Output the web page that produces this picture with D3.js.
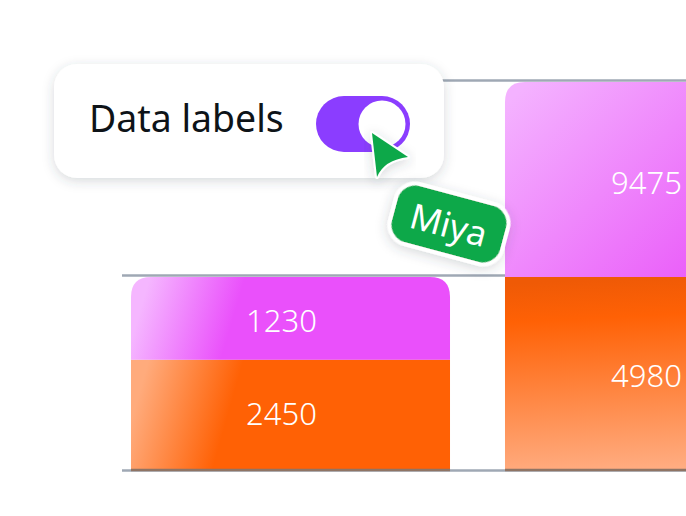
<!DOCTYPE html>
<html>
<head>
    <meta charset="utf-8">
    <title>Data labels</title>
    <script src="https://d3js.org/d3.v7.min.js"></script>
    <style>
        body { margin: 0; padding: 0; background: #fff; overflow: hidden; }
        text { font-family: "Noto Sans", sans-serif; }
    </style>
</head>
<body>
    <div id="chart"></div>
    <script>
        // Data
        const categories = ["A", "B"];
        const orangeLabels = [2450, 4980];
        const pinkLabels = [1230, 9475];
        // bar heights as drawn, in axis units (the picture is not proportional to its labels)
        const orangeDrawn = [2830, 4950];
        const pinkDrawn = [2120, 5000];
        const axisTicks = [0, 5000, 10000];

        const W = 686, H = 516;
        const svg = d3.select("#chart").append("svg").attr("width", W).attr("height", H).style("display", "block");
        const defs = svg.append("defs");

        // gradients are in page pixels so the angle does not stretch with the bar
        function gradient(id, x1, y1, x2, y2, stops) {
            const g = defs.append("linearGradient").attr("id", id).attr("gradientUnits", "userSpaceOnUse")
                .attr("x1", x1).attr("y1", y1).attr("x2", x2).attr("y2", y2);
            stops.forEach(s => g.append("stop").attr("offset", s[0]).attr("stop-color", s[1]));
        }
        gradient("pink0", 140, 310, 228, 336, [[0, "#f5b6ff"], [1, "#ea50fb"]]);
        gradient("orange0", 140, 390, 228, 415, [[0, "#ffab7c"], [1, "#ff6105"]]);
        gradient("pink1", 520, 90, 700, 280, [[0, "#f4b2ff"], [1, "#ea5cf9"]]);
        gradient("orange1", 640, 277, 650, 470, [[0, "#ef5a06"], [0.2, "#ff6105"], [1, "#ffad82"]]);

        const cardShadow = defs.append("filter").attr("id", "shadow")
            .attr("x", "-20%").attr("y", "-40%").attr("width", "140%").attr("height", "180%");
        cardShadow.append("feDropShadow").attr("dx", 0).attr("dy", 3).attr("stdDeviation", 6)
            .attr("flood-color", "#39424e").attr("flood-opacity", 0.2);

        const x = d3.scaleBand().domain(categories).range([131, 824]).paddingInner(0.147);
        const y = d3.scaleLinear().domain([0, 10000]).range([470, 80]);

        // gridlines behind the bars
        const grid = svg.append("g").attr("transform", "translate(122,0)")
            .call(d3.axisLeft(y).tickValues(axisTicks).tickSize(-600).tickFormat(""));
        grid.select(".domain").remove();
        grid.selectAll(".tick line").attr("stroke", "#9fa8b4").attr("stroke-width", 2.6);

        function topRounded(x0, y0, w, y1, r) {
            return `M${x0},${y1}V${y0 + r}Q${x0},${y0} ${x0 + r},${y0}H${x0 + w - r}Q${x0 + w},${y0} ${x0 + w},${y0 + r}V${y1}Z`;
        }

        const bars = svg.append("g");
        const labelShift = [-9, -18];
        const orangeNudge = [-1, 2];
        const pinkNudge = [3, 3];
        categories.forEach((c, i) => {
            const bx = x(c), bw = x.bandwidth();
            const orangeTop = y(orangeDrawn[i]);
            const pinkTop = y(orangeDrawn[i] + pinkDrawn[i]);
            bars.append("rect").attr("x", bx).attr("y", orangeTop).attr("width", bw)
                .attr("height", y(0) - orangeTop).attr("fill", `url(#orange${i})`);
            bars.append("path").attr("d", topRounded(bx, pinkTop, bw, orangeTop, 20))
                .attr("fill", `url(#pink${i})`);
            [[orangeLabels[i], (orangeTop + y(0)) / 2 + orangeNudge[i]], [pinkLabels[i], (pinkTop + orangeTop) / 2 + pinkNudge[i]]].forEach(l => {
                bars.append("text").attr("x", bx + bw / 2 + labelShift[i]).attr("y", l[1])
                    .attr("dy", "0.36em").attr("text-anchor", "middle").attr("font-weight", 300)
                    .attr("font-size", 31).attr("fill", "#fff").text(l[0]);
            });
            // baseline darkens where it crosses a bar
            bars.append("line").attr("x1", bx).attr("x2", bx + bw).attr("y1", y(0)).attr("y2", y(0))
                .attr("stroke", "#8f7464").attr("stroke-width", 2.6);
        });

        // toggle card
        svg.append("rect").attr("x", 54).attr("y", 64).attr("width", 390).attr("height", 114).attr("rx", 23)
            .attr("fill", "#fff").attr("filter", "url(#shadow)");
        svg.append("text").attr("x", 89).attr("y", 132).attr("font-size", 37.4).attr("fill", "#0e1318").text("Data labels");
        svg.append("rect").attr("x", 316).attr("y", 96).attr("width", 94).attr("height", 56).attr("rx", 28).attr("fill", "#8b3dff");
        svg.append("circle").attr("cx", 382).attr("cy", 124).attr("r", 23.5).attr("fill", "#fff");

        // cursor
        svg.append("path").attr("d", "M372,133L408,157Q384,160 377,177Z")
            .attr("fill", "#0ba84a").attr("stroke", "#fff").attr("stroke-width", 4)
            .attr("stroke-linejoin", "round").attr("paint-order", "stroke").attr("filter", "url(#shadow)");

        // name tag
        const tag = svg.append("g").attr("transform", "translate(449,224) rotate(15)");
        tag.append("rect").attr("x", -58).attr("y", -31).attr("width", 116).attr("height", 62).attr("rx", 20)
            .attr("fill", "#0ba84a").attr("stroke", "#fff").attr("stroke-width", 4).attr("filter", "url(#shadow)");
        tag.append("text").attr("x", 0).attr("y", 1).attr("dy", "0.36em").attr("text-anchor", "middle")
            .attr("font-size", 35).attr("fill", "#fff").text("Miya");
    </script>
</body>
</html>
